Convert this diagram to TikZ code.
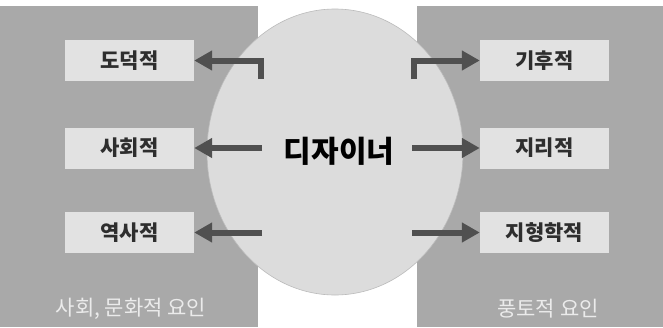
\documentclass[tikz,border=0pt]{standalone}
\usepackage{fontspec}
\newfontfamily\krfont{Noto Sans CJK KR}
\usetikzlibrary{arrows.meta,shapes.geometric}
\definecolor{panelgray}{HTML}{A9A9A9}
\definecolor{boxgray}{HTML}{E2E2E2}
\definecolor{ovalgray}{HTML}{DCDCDC}
\definecolor{arrowgray}{HTML}{505050}
\definecolor{textgray}{HTML}{2E2E2E}
\tikzset{
  panel/.style={fill=panelgray, draw=none},
  factor/.style={fill=boxgray, draw=none, minimum width=129pt, minimum height=41pt,
    inner sep=0pt, font=\krfont\bfseries\fontsize{21}{21}\selectfont, text=textgray},
  groupname/.style={font=\krfont\fontsize{21}{21}\selectfont, text=white!92!black, inner sep=0pt},
  link/.style={draw=arrowgray, line width=6pt,
    -{Triangle[length=18pt, width=19pt]}},
}
\begin{document}
\begin{tikzpicture}[x=1pt, y=-1pt]
  \useasboundingbox (0,0) rectangle (663,327);
  \fill[white] (0,0) rectangle (663,327);
  % two factor groups
  \path[panel] (0,6) rectangle (258,327);
  \path[panel] (417,6) rectangle (663,327);
  % the designer in the middle
  \node[ellipse, fill=ovalgray, draw=ovalgray!85!black, line width=0.6pt,
        minimum width=256pt, minimum height=286pt, inner sep=0pt] (oval) at (335,152) {};
  \node[font=\krfont\bfseries\fontsize{30}{30}\selectfont, inner sep=0pt] (designer) at (339,151) {디자이너};
  % social and cultural factors
  \node[factor] (moral)   at (129.5,60.5) {도덕적};
  \node[factor] (social)  at (129.5,148)  {사회적};
  \node[factor] (history) at (129.5,232.5){역사적};
  % climatic factors
  \node[factor] (climate) at (544.5,60.5) {기후적};
  \node[factor] (geo)     at (544.5,148)  {지리적};
  \node[factor] (terrain) at (544.5,232.5){지형학적};
  % group names
  \node[groupname] (gleft)  at (131,309) {사회, 문화적 요인};
  \node[groupname] (gright) at (548,309) {풍토적 요인};
  % arrow starts inside the oval
  \coordinate (s1) at (261,79);
  \coordinate (s2) at (262,148);
  \coordinate (s3) at (262,232.5);
  \coordinate (t1) at (414,79);
  \coordinate (t2) at (412,148);
  \coordinate (t3) at (412,232.5);
  \draw[link] (s1) |- (moral.east);
  \draw[link] (s2) -- (social.east);
  \draw[link] (s3) -- (history.east);
  \draw[link] (t1) |- (climate.west);
  \draw[link] (t2) -- (geo.west);
  \draw[link] (t3) -- (terrain.west);
\end{tikzpicture}
\end{document}
